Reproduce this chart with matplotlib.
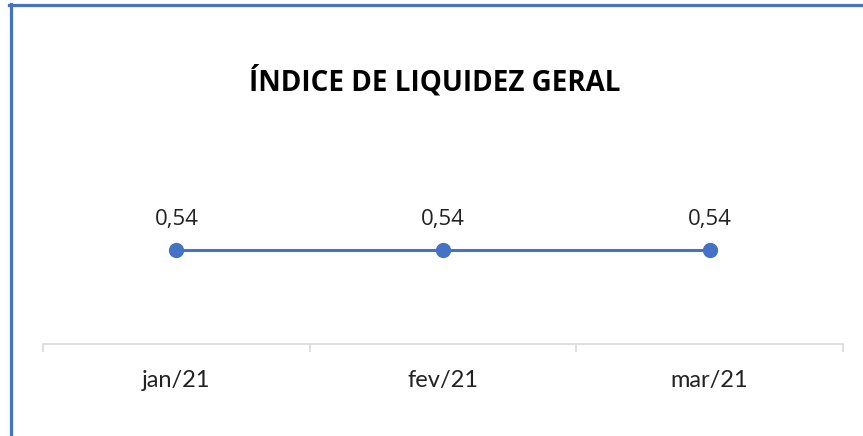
import matplotlib.pyplot as plt
from matplotlib.lines import Line2D

# chart data
categories = ["jan/21", "fev/21", "mar/21"]
values = [0.54, 0.54, 0.54]
value_labels = ["0,54", "0,54", "0,54"]
title = "ÍNDICE DE LIQUIDEZ GERAL"

BLUE = "#4472C4"
W, H = 863, 436

fig = plt.figure(figsize=(W / 100, H / 100), dpi=100)
fig.patch.set_facecolor("white")

# plot area in pixel terms
left, right, bottom, top = 43, 843, 344, 150
ax = fig.add_axes([left / W, (H - bottom) / H, (right - left) / W, (bottom - top) / H])

x = list(range(len(categories)))
ax.plot(x, values, color=BLUE, lw=2.2, marker="o", ms=10, zorder=3)
for xi, v, lab in zip(x, values, value_labels):
    ax.annotate(lab, (xi, v), xytext=(0, 22), textcoords="offset points",
                ha="center", va="center", fontsize=16, family="Open Sans", color="#222222")

ax.set_xlim(-0.5, len(categories) - 0.5)
ax.set_ylim(0, 1.115)
ax.set_yticks([])
ax.set_xticks(x)
ax.set_xticklabels(categories, fontsize=17, family="Lato", color="#222222")
ax.tick_params(axis="x", length=0, pad=19)
# category separator ticks
ax.set_xticks([i - 0.5 for i in range(len(categories) + 1)], minor=True)
ax.tick_params(axis="x", which="minor", length=6, color="#D9D9D9", width=1.2)
for s in ["top", "left", "right"]:
    ax.spines[s].set_visible(False)
ax.spines["bottom"].set_color("#D9D9D9")
ax.spines["bottom"].set_linewidth(1.2)
ax.patch.set_alpha(0)

fig.text(435 / W, 1 - 82 / H, title, ha="center", va="center",
         fontsize=20, fontweight="bold", family="Open Sans", color="black")

# chart frame (top and left edges visible)
fig.add_artist(Line2D([9 / W, 1], [1 - 5 / H, 1 - 5 / H], color=BLUE, lw=2.3,
                      transform=fig.transFigure))
fig.add_artist(Line2D([10.5 / W, 10.5 / W], [0, 1 - 4 / H], color=BLUE, lw=2.3,
                      transform=fig.transFigure))

fig.savefig("out.png", dpi=100)
